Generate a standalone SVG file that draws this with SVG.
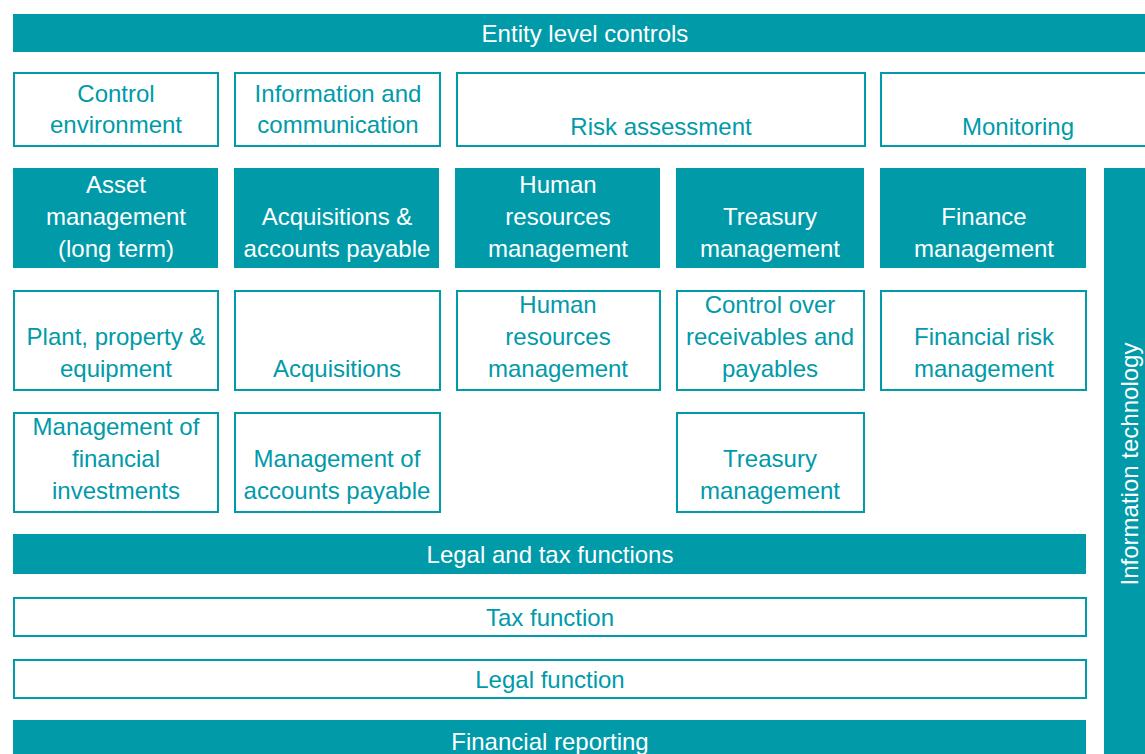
<svg xmlns="http://www.w3.org/2000/svg" width="1145" height="754" viewBox="0 0 1145 754">
<style>
.fill{fill:#009AA9;}
.box{fill:#FFFFFF;stroke:#009AA9;stroke-width:2;}
text{font-family:"Liberation Sans",Arial,sans-serif;font-size:24px;text-anchor:middle;}
.w{fill:#FFFFFF;}
.t{fill:#009AA9;}
</style>
<rect width="1145" height="754" fill="#FFFFFF"/>
<g id="entity-level-controls">
<rect class="fill" x="13" y="14" width="1147" height="38"/>
<text class="w" x="585" y="42">Entity level controls</text>
</g>
<g id="control-environment">
<rect class="box" x="14" y="73" width="204" height="73"/>
<text class="t" x="116" y="102">Control</text>
<text class="t" x="116" y="133">environment</text>
</g>
<g id="information-communication">
<rect class="box" x="235" y="73" width="205" height="73"/>
<text class="t" x="338" y="102">Information and</text>
<text class="t" x="338" y="133">communication</text>
</g>
<g id="risk-assessment">
<rect class="box" x="457" y="73" width="408" height="73"/>
<text class="t" x="661" y="135">Risk assessment</text>
</g>
<g id="monitoring">
<rect class="box" x="881" y="73" width="280" height="73"/>
<text class="t" x="1018" y="135">Monitoring</text>
</g>
<g id="asset-management">
<rect class="fill" x="13" y="168" width="205" height="100"/>
<text class="w" x="116" y="193">Asset</text>
<text class="w" x="116" y="225">management</text>
<text class="w" x="116" y="257">(long term)</text>
</g>
<g id="acquisitions-accounts-payable">
<rect class="fill" x="234" y="168" width="205" height="100"/>
<text class="w" x="337" y="225">Acquisitions &amp;</text>
<text class="w" x="337" y="257">accounts payable</text>
</g>
<g id="human-resources-management">
<rect class="fill" x="455" y="168" width="205" height="100"/>
<text class="w" x="558" y="193">Human</text>
<text class="w" x="558" y="225">resources</text>
<text class="w" x="558" y="257">management</text>
</g>
<g id="treasury-management">
<rect class="fill" x="676" y="168" width="188" height="100"/>
<text class="w" x="770" y="225">Treasury</text>
<text class="w" x="770" y="257">management</text>
</g>
<g id="finance-management">
<rect class="fill" x="880" y="168" width="206" height="100"/>
<text class="w" x="984" y="225">Finance</text>
<text class="w" x="984" y="257">management</text>
</g>
<g id="information-technology">
<rect class="fill" x="1104" y="168" width="41" height="586"/>
<text class="w" transform="translate(1138,464) rotate(-90)">Information technology</text>
</g>
<g id="plant-property-equipment">
<rect class="box" x="14" y="291" width="204" height="99"/>
<text class="t" x="116" y="345">Plant, property &amp;</text>
<text class="t" x="116" y="377">equipment</text>
</g>
<g id="acquisitions">
<rect class="box" x="235" y="291" width="205" height="99"/>
<text class="t" x="337" y="377">Acquisitions</text>
</g>
<g id="human-resources-management-2">
<rect class="box" x="457" y="291" width="203" height="99"/>
<text class="t" x="558" y="313">Human</text>
<text class="t" x="558" y="345">resources</text>
<text class="t" x="558" y="377">management</text>
</g>
<g id="control-receivables-payables">
<rect class="box" x="677" y="291" width="187" height="99"/>
<text class="t" x="770" y="313">Control over</text>
<text class="t" x="770" y="345">receivables and</text>
<text class="t" x="770" y="377">payables</text>
</g>
<g id="financial-risk-management">
<rect class="box" x="881" y="291" width="205" height="99"/>
<text class="t" x="984" y="345">Financial risk</text>
<text class="t" x="984" y="377">management</text>
</g>
<g id="management-financial-investments">
<rect class="box" x="14" y="413" width="204" height="99"/>
<text class="t" x="116" y="435">Management of</text>
<text class="t" x="116" y="467">financial</text>
<text class="t" x="116" y="499">investments</text>
</g>
<g id="management-accounts-payable">
<rect class="box" x="235" y="413" width="205" height="99"/>
<text class="t" x="337" y="467">Management of</text>
<text class="t" x="337" y="499">accounts payable</text>
</g>
<g id="treasury-management-2">
<rect class="box" x="677" y="413" width="187" height="99"/>
<text class="t" x="770" y="467">Treasury</text>
<text class="t" x="770" y="499">management</text>
</g>
<g id="legal-tax-functions">
<rect class="fill" x="13" y="534" width="1073" height="40"/>
<text class="w" x="550" y="563">Legal and tax functions</text>
</g>
<g id="tax-function">
<rect class="box" x="14" y="598" width="1072" height="38"/>
<text class="t" x="550" y="626">Tax function</text>
</g>
<g id="legal-function">
<rect class="box" x="14" y="660" width="1072" height="38"/>
<text class="t" x="550" y="688">Legal function</text>
</g>
<g id="financial-reporting">
<rect class="fill" x="13" y="720" width="1073" height="40"/>
<text class="w" x="550" y="750">Financial reporting</text>
</g>
<g id="connectors"></g>
</svg>
